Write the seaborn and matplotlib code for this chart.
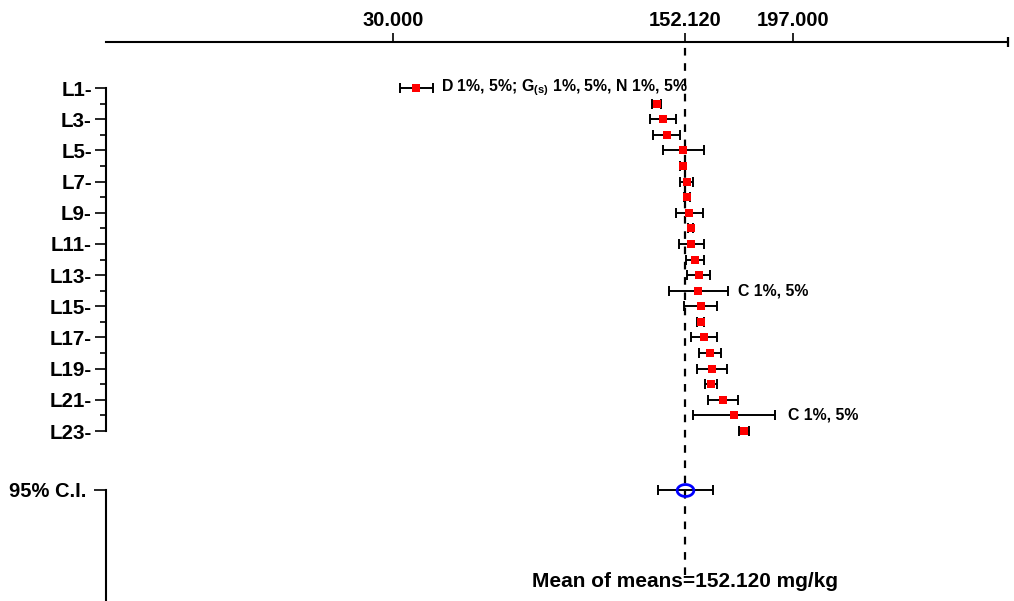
import numpy as np
import pandas as pd
import matplotlib
matplotlib.use("Agg")
import matplotlib.pyplot as plt
from matplotlib.path import Path
from matplotlib.ticker import NullLocator
import seaborn as sns

# ---- data -----------------------------------------------------------------
labs = [f"L{i}" for i in range(1, 24)]
lab_means = [39.6, 140.1, 142.7, 144.3, 151.3, 151.0, 152.6, 152.7, 153.7,
             154.3, 154.6, 156.2, 157.6, 157.5, 158.5, 158.5, 160.0, 162.3,
             163.1, 162.9, 167.7, 172.3, 176.6]
lab_halfwidths = [6.8, 2.0, 5.4, 5.6, 8.6, 1.1, 2.8, 1.3, 5.6, 1.0, 5.2, 3.8,
                  4.9, 12.3, 6.8, 1.6, 5.4, 4.7, 6.3, 2.6, 6.3, 17.2, 2.1]
mean_of_means = 152.120
ci_halfwidth = 11.4
top_ticks = [30.000, 152.120, 197.000]
flags = {1: r"D 1%, 5%; G$_{\mathbf{(s)}}$ 1%, 5%, N 1%, 5%",
         14: "C 1%, 5%",
         22: "C 1%, 5%"}
unit = "mg/kg"

df = pd.DataFrame({"lab": labs, "row": np.arange(1, 24),
                   "mean": lab_means, "half": lab_halfwidths})

# ---- style ----------------------------------------------------------------
sns.set_style("white")
plt.rcParams["font.family"] = ["Liberation Sans", "DejaVu Sans"]
plt.rcParams["font.weight"] = "bold"
plt.rcParams["text.color"] = "black"
plt.rcParams["axes.labelcolor"] = "black"
plt.rcParams["xtick.color"] = "black"
plt.rcParams["ytick.color"] = "black"
plt.rcParams["mathtext.fontset"] = "custom"
plt.rcParams["mathtext.bf"] = "Liberation Sans:bold"
plt.rcParams["mathtext.rm"] = "Liberation Sans:bold"
plt.rcParams["lines.scale_dashes"] = False

W, H = 1014, 601
fig = plt.figure(figsize=(W / 100, H / 100), dpi=100)
fig.patch.set_facecolor("white")

# axes spans the whole canvas; limits chosen so rows are evenly spaced
XLIM = (-134.53, 289.54)
YLIM = (33.90, -4.644)
ROW_TOP_AXIS = -1.95
CI_ROW = 26.78
SPINE_X = -90.0
SPINE_XMAX = 287.0
EBAR = dict(fmt="none", ecolor="black", elinewidth=1.4, capsize=3.8,
            capthick=1.4, zorder=3)

ax = fig.add_axes([0, 0, 1, 1])
ax.patch.set_alpha(0)

# lab intervals and means
ax.errorbar(df["mean"], df["row"], xerr=df["half"], **EBAR)
sns.scatterplot(data=df, x="mean", y="row", marker="s", s=40,
                color="#ff0000", linewidth=0, ax=ax, zorder=4, legend=False)
ax.set_xlabel("")
ax.set_ylabel("")
ax.set_xlim(*XLIM)
ax.set_ylim(*YLIM)

# spines: top scale line, left row axis
for s in ("bottom", "right"):
    ax.spines[s].set_visible(False)
ax.spines["top"].set_position(("data", ROW_TOP_AXIS))
ax.spines["top"].set_bounds(SPINE_X, SPINE_XMAX)
ax.spines["left"].set_position(("data", SPINE_X))
ax.spines["left"].set_bounds(1, 23)
for s in ("top", "left"):
    ax.spines[s].set_linewidth(1.5)
    ax.spines[s].set_color("black")

ax.xaxis.set_ticks_position("top")
ax.set_xticks(top_ticks)
ax.set_xticklabels([f"{t:.3f}" for t in top_ticks])
ax.tick_params(axis="x", direction="out", length=6.5, width=1.2,
               pad=2.5, labelsize=14.5, colors="black")

ax.yaxis.set_ticks_position("left")
ax.set_yticks(df["row"][::2].tolist())
ax.set_yticklabels([f"{l}-" for l in df["lab"][::2]])
ax.set_yticks(df["row"][1::2].tolist(), minor=True)
ax.tick_params(axis="y", which="major", direction="out", length=8.0,
               width=1.2, pad=2.5, labelsize=14.8, colors="black")
ax.tick_params(axis="y", which="minor", direction="out", length=4.3,
               width=1.2, left=True)
for t in ax.get_xticklabels() + ax.get_yticklabels():
    t.set_fontweight("bold")

# small end mark of the scale line
ax.plot([SPINE_XMAX], [ROW_TOP_AXIS], marker="|", ms=6.5, mew=1.6,
        color="black", clip_on=False)

# mean-of-means reference line
ax.axvline(mean_of_means, ymin=1 - 575 / H, ymax=1 - 42 / H,
           color="black", lw=1.6, dashes=(5.5, 5.5))

# significance flags
offsets = {1: 5.8, 14: 7.2, 22: 9.5}
for r, txt in flags.items():
    m = lab_means[r - 1]
    h = lab_halfwidths[r - 1]
    ax.annotate(txt, xy=(m + h, r), xytext=(offsets[r], 0),
                textcoords="offset points", ha="left", va="center",
                fontsize=11.4, fontweight="bold", color="black")

# 95% confidence interval of the mean of means
theta = np.linspace(0, 2 * np.pi, 60)
oval = Path(np.column_stack([1.4 * np.cos(theta), np.sin(theta)]))
ax.errorbar([mean_of_means], [CI_ROW], xerr=[ci_halfwidth], **EBAR)
ax.plot([mean_of_means], [CI_ROW], marker=oval, ms=12, mfc="none",
        mec="#0000ff", mew=2.0, ls="none", zorder=4)

ax.text(mean_of_means, 32.62, f"Mean of means={mean_of_means:.3f} {unit}",
        ha="center", va="center", fontsize=15, fontweight="bold",
        color="black")

# second row axis for the confidence-interval entry (own locators)
ax2 = fig.add_axes([0, 0, 1, 1])
ax2.patch.set_alpha(0)
ax2.set_xlim(*XLIM)
ax2.set_ylim(*YLIM)
for s in ("bottom", "right", "top"):
    ax2.spines[s].set_visible(False)
ax2.spines["left"].set_position(("data", SPINE_X))
ax2.spines["left"].set_bounds(CI_ROW, YLIM[0])
ax2.spines["left"].set_linewidth(1.5)
ax2.spines["left"].set_color("black")
ax2.xaxis.set_visible(False)
ax2.yaxis.set_ticks_position("left")
ax2.set_yticks([CI_ROW])
ax2.set_yticklabels(["95% C.I."])
ax2.yaxis.set_minor_locator(NullLocator())
ax2.tick_params(axis="y", direction="out", length=8.6, width=1.2, pad=6,
                labelsize=14.5, colors="black")
for t in ax2.get_yticklabels():
    t.set_fontweight("bold")

fig.savefig("out.png", dpi=100, facecolor="white")
